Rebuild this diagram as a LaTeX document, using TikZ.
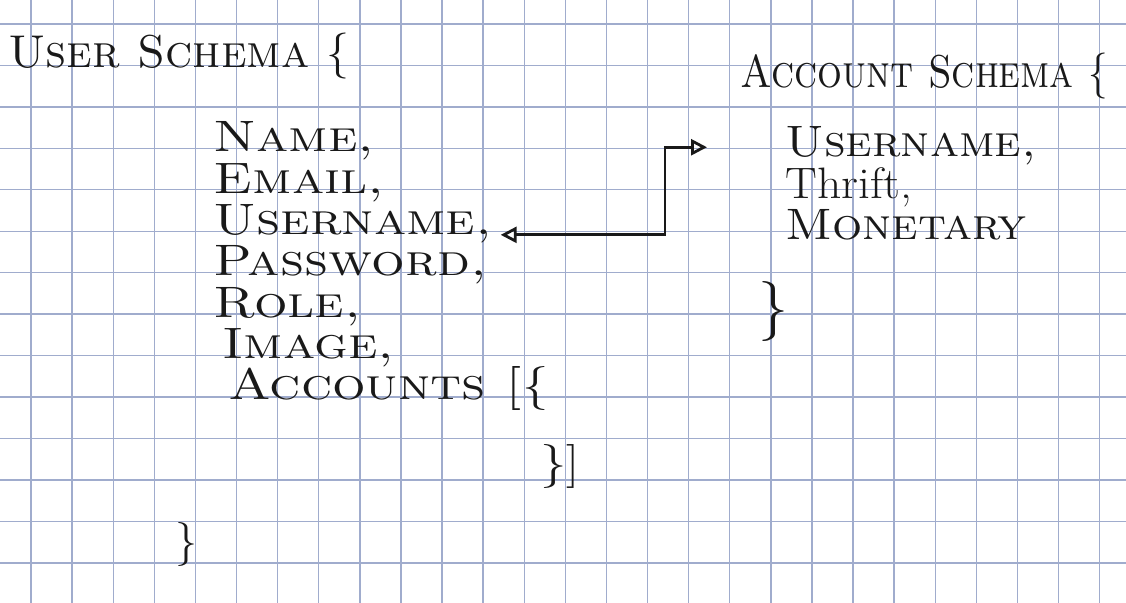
\documentclass[tikz,border=0pt]{standalone}
\usepackage{tikz}
\usetikzlibrary{arrows.meta, positioning}

\definecolor{ink}{RGB}{25,25,25}
\definecolor{gridblue}{RGB}{160,172,205}
\newcommand{\hand}[2][1.2]{\scalebox{#1}[1]{#2}}

\begin{document}
\begin{tikzpicture}[
    x=0.5pt, y=-0.5pt,
    node distance=0pt,
    head/.style={anchor=base west, inner sep=0pt, text=ink, font=\fontsize{23}{28}\selectfont\scshape},
    field/.style={inner sep=0pt, text=ink, text height=15pt, text depth=5.25pt, font=\fontsize{22}{26}\selectfont\scshape},
    closing/.style={anchor=base west, inner sep=0pt, text=ink, font=\fontsize{22}{26}\selectfont},
    gridline/.style={draw=gridblue, line width=0.7pt},
    link/.style={{Triangle[open, length=8pt, width=8pt]}-{Triangle[open, length=8pt, width=8pt]}, draw=ink, line width=1.4pt}
]
\useasboundingbox (0,0) rectangle (1126,603);
% graph paper
\begin{scope}
\clip (0,0) rectangle (1126,603);
\foreach \k in {0,...,14} \draw[gridline] (0,24+41.45*\k) -- (1126,24+41.45*\k);
\foreach \k in {0,...,27} \draw[gridline] (31+41.1*\k,0) -- (31+41.1*\k,603);
\end{scope}

% user schema
\node[head] (userhead) at (8,68) {User Schema \{};
\node[field, anchor=base west] (name) at (213,152) {\hand{Name,}};
\node[field, below=of name.south west, anchor=north west] (email) {\hand{Email,}};
\node[field, below=of email.south west, anchor=north west] (username) {\hand{Username,}};
\node[field, below=of username.south west, anchor=north west] (password) {\hand{Password,}};
\node[field, below=of password.south west, anchor=north west] (role) {\hand{Role,}};
\node[field, below=of role.south west, anchor=north west, xshift=4.5pt] (image) {\hand{Image,}};
\node[field, below=of image.south west, anchor=north west, xshift=3pt] (accounts) {\hand{Accounts [\{}};
\node[closing] (listclose) at (540,478) {\hand{\}]}};
\node[closing] (userclose) at (175,556) {\}};

% account schema
\node[head] (accthead) at (740,88) {\hand[0.85]{Account Schema \{}};
\node[field, anchor=base west] (acctuser) at (785,157) {\hand[1.08]{Username,}};
\node[field, below=of acctuser.south west, anchor=north west] (thrift) {\hand[1.08]{\upshape Thrift,}};
\node[field, below=of thrift.south west, anchor=north west] (monetary) {\hand[1.08]{Monetary}};
\node[closing, font=\fontsize{30}{36}\selectfont] (acctclose) at (758,327) {\}};

% username link
\coordinate (bend) at (665,0);
\coordinate (ustart) at ([xshift=4pt, yshift=-5pt]username.east);
\draw[link] (ustart) -- (ustart -| bend) |- ([xshift=-39pt]acctuser.west);
\end{tikzpicture}
\end{document}
